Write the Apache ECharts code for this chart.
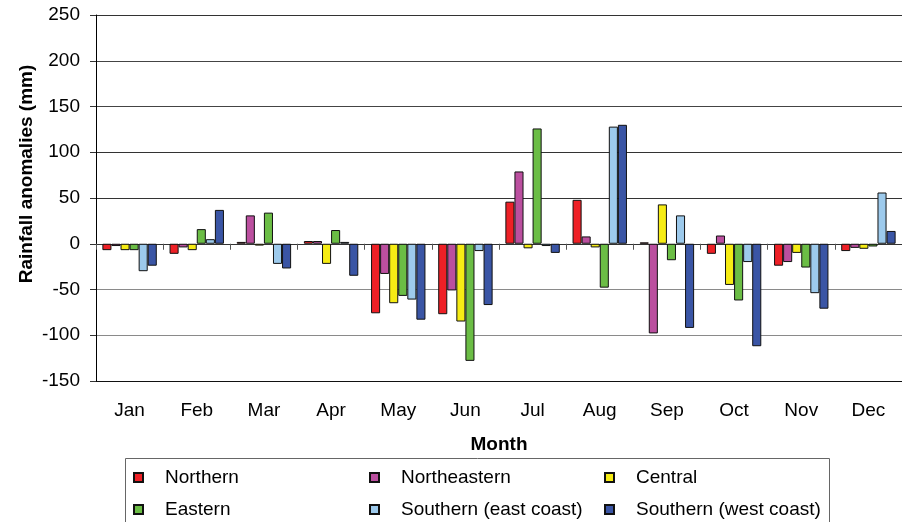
<!DOCTYPE html>
<html>
<head>
<meta charset="utf-8">
<script src="https://cdn.jsdelivr.net/npm/echarts@6/dist/echarts.min.js"></script>
<style>
  html, body { margin: 0; padding: 0; background: #fff; }
  #chart { width: 902px; height: 522px; }
</style>
</head>
<body>
<div id="chart"></div>
<script>
var months = ['Jan', 'Feb', 'Mar', 'Apr', 'May', 'Jun', 'Jul', 'Aug', 'Sep', 'Oct', 'Nov', 'Dec'];
var seriesNames = ['Northern', 'Northeastern', 'Central', 'Eastern', 'Southern (east coast)', 'Southern (west coast)'];
var northern = [-7, -11, 2, 3, -76, -77, 46, 48, 1.5, -11, -24, -8];
var northeastern = [-2.5, -4, 31, 3, -33, -51, 79, 8, -98, 9, -20, -4.5];
var central = [-7, -7, -2, -22, -65, -85, -5, -4, 43, -45, -10, -5.5];
var eastern = [-7, 16, 34, 15, -57, -128, 126, -48, -18, -62, -26, -3];
var southernEast = [-30, 5, -22, 2, -61, -8, -2.5, 128, 31, -20, -54, 56];
var southernWest = [-24, 37, -27, -35, -83, -67, -10, 130, -92, -112, -71, 14];
var colors = ['#ee2026', '#bb4f9f', '#f6ec14', '#6bbd45', '#9dcaec', '#3a55a5'];

var font = "'Liberation Sans', Arial, sans-serif";
var fs = 19;
var values = [northern, northeastern, central, eastern, southernEast, southernWest];

var chart = echarts.init(document.getElementById('chart'), null, { renderer: 'canvas' });

var series = values.map(function(v, i) {
  return {
    name: seriesNames[i],
    type: 'bar',
    xAxisIndex: 0,
    data: v,
    barGap: '0%',
    barCategoryGap: '19%',
    itemStyle: { color: colors[i], borderColor: '#111', borderWidth: 1 }
  };
});

// legend: 3 columns x 2 rows, one legend per entry
var colLeft = [133, 369, 604];
var rowTop = [468, 500];
var legends = seriesNames.map(function(name, i) {
  return {
    data: [name],
    left: colLeft[i % 3],
    top: rowTop[Math.floor(i / 3)],
    padding: 0,
    itemWidth: 9,
    itemHeight: 9,
    icon: 'rect',
    selectedMode: false,
    formatter: function(n) { return '{g|}{a|' + n + '}'; },
    textStyle: {
      color: '#000',
      fontFamily: font,
      fontSize: fs,
      rich: {
        g: { width: 17, lineHeight: 22 },
        a: { fontSize: fs, fontFamily: font, color: '#000', lineHeight: 22 }
      }
    }
  };
});

chart.setOption({
  animation: false,
  color: colors,
  textStyle: { fontFamily: font },
  grid: { left: 96, top: 15, width: 816, height: 366 },
  legend: legends,
  xAxis: [{
    type: 'category',
    data: months,
    axisLine: { onZero: true, lineStyle: { color: '#333', width: 1 } },
    axisTick: { show: true, length: 6, lineStyle: { color: '#555' } },
    axisLabel: { show: false },
    splitLine: { show: false }
  }, {
    type: 'category',
    data: months,
    position: 'bottom',
    axisLine: { show: false, onZero: false },
    axisTick: { show: false },
    axisLabel: { color: '#000', fontSize: fs, fontFamily: font, margin: 20 },
    name: 'Month',
    nameLocation: 'middle',
    nameGap: 54,
    nameTextStyle: { color: '#000', fontSize: fs, fontWeight: 'bold', fontFamily: font }
  }],
  yAxis: {
    type: 'value',
    min: -150,
    max: 250,
    interval: 50,
    axisLine: { show: true, lineStyle: { color: '#000', width: 1 } },
    axisTick: { show: true, length: 6, lineStyle: { color: '#333' } },
    axisLabel: { color: '#000', fontSize: fs, fontFamily: font, margin: 16, padding: [3, 0, 0, 0] },
    splitLine: {
      lineStyle: {
        color: ['#111', '#8a8a8a', '#8a8a8a', '#555', '#333', '#333', '#444', '#444', '#333'],
        width: 1
      }
    }
  },
  graphic: [{
    type: 'text',
    x: 27,
    y: 174,
    rotation: Math.PI / 2,
    style: {
      text: 'Rainfall anomalies (mm)',
      fill: '#000',
      font: 'bold ' + fs + 'px ' + font,
      textAlign: 'center',
      textVerticalAlign: 'middle'
    }
  }, {
    type: 'rect',
    shape: { x: 125.5, y: 458.5, width: 704, height: 80 },
    style: { fill: 'none', stroke: '#666', lineWidth: 1 },
    z: -1
  }],
  series: series
});
</script>
</body>
</html>
